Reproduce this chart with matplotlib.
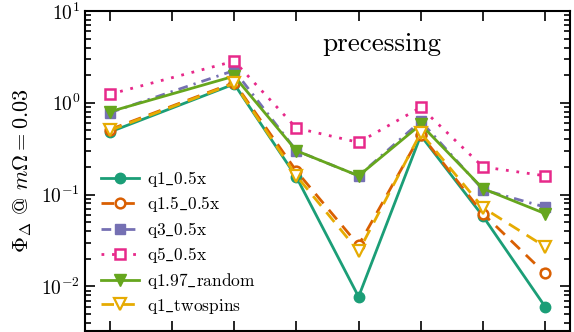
import matplotlib
matplotlib.use("Agg")
import matplotlib.pyplot as plt
from matplotlib.ticker import LogLocator, NullFormatter

plt.rcParams["mathtext.fontset"] = "cm"
plt.rcParams["font.family"] = "serif"
plt.rcParams["font.serif"] = ["cmr10", "DejaVu Serif"]
plt.rcParams["axes.formatter.use_mathtext"] = True

# data
x = [0, 2, 3, 4, 5, 6, 7]
q1 = [0.48, 1.60, 0.155, 0.0077, 0.44, 0.058, 0.0060]
q15 = [0.51, 1.66, 0.18, 0.028, 0.45, 0.062, 0.0138]
q3 = [0.78, 2.25, 0.30, 0.16, 0.63, 0.113, 0.073]
q5 = [1.24, 2.84, 0.53, 0.37, 0.89, 0.20, 0.16]
q197 = [0.80, 1.95, 0.30, 0.16, 0.58, 0.116, 0.062]
twospins = [0.50, 1.63, 0.16, 0.024, 0.47, 0.072, 0.027]

labels = [r"$\mathrm{q1\_0.5x}$", r"$\mathrm{q1.5\_0.5x}$", r"$\mathrm{q3\_0.5x}$",
          r"$\mathrm{q5\_0.5x}$", r"$\mathrm{q1.97\_random}$", r"$\mathrm{q1\_twospins}$"]

fig = plt.figure(figsize=(5.74, 3.32), dpi=100)
ax = fig.add_axes([85 / 574, 1.5 / 332, 485 / 574, 319.5 / 332])

ms = 7
ax.plot(x, q1, "-o", color="#1b9e77", lw=2, ms=ms + 0.5, label=labels[0])
ax.plot(x, q15, "--o", color="#d95f02", lw=2, ms=ms, mfc="white", mew=1.8,
        dashes=(4.5, 3), label=labels[1])
ax.plot(x, q3, "-.s", color="#7570b3", lw=2, ms=ms, dashes=(3.5, 2.2, 0.8, 2.2),
        label=labels[2])
ax.plot(x, q5, ":s", color="#e7298a", lw=2, ms=ms, mfc="white", mew=1.8,
        dashes=(1, 2.8), label=labels[3])
ax.plot(x, q197, "-v", color="#66a61e", lw=2, ms=ms + 1, label=labels[4])
ax.plot(x, twospins, "--v", color="#e6ab02", lw=2, ms=ms + 1, mfc="white", mew=1.6,
        dashes=(4.5, 3), label=labels[5])

ax.set_yscale("log")
ax.set_ylim(3.3e-3, 10)
ax.set_xlim(-0.4, 7.4)
ax.set_xticks(range(8))
ax.yaxis.set_minor_locator(LogLocator(subs=range(2, 10)))
ax.yaxis.set_minor_formatter(NullFormatter())
ax.tick_params(which="both", direction="in", top=True, right=True, labelbottom=False,
               labelsize=14, width=1.2)
ax.tick_params(which="major", length=7)
ax.tick_params(which="minor", length=4)
for s in ax.spines.values():
    s.set_linewidth(1.5)

ax.set_ylabel(r"$\Phi_\Delta$ @ $m\Omega = 0.03$", fontsize=16, labelpad=5)
ax.text(0.49, 0.875, "precessing", transform=ax.transAxes, fontsize=19.5, va="baseline")

ax.legend(loc="lower left", bbox_to_anchor=(0.019, 0.025), borderaxespad=0,
          frameon=False, fontsize=12.5, handlelength=2.2, handletextpad=0.45,
          labelspacing=0.32)

fig.savefig("out.png", dpi=100)
